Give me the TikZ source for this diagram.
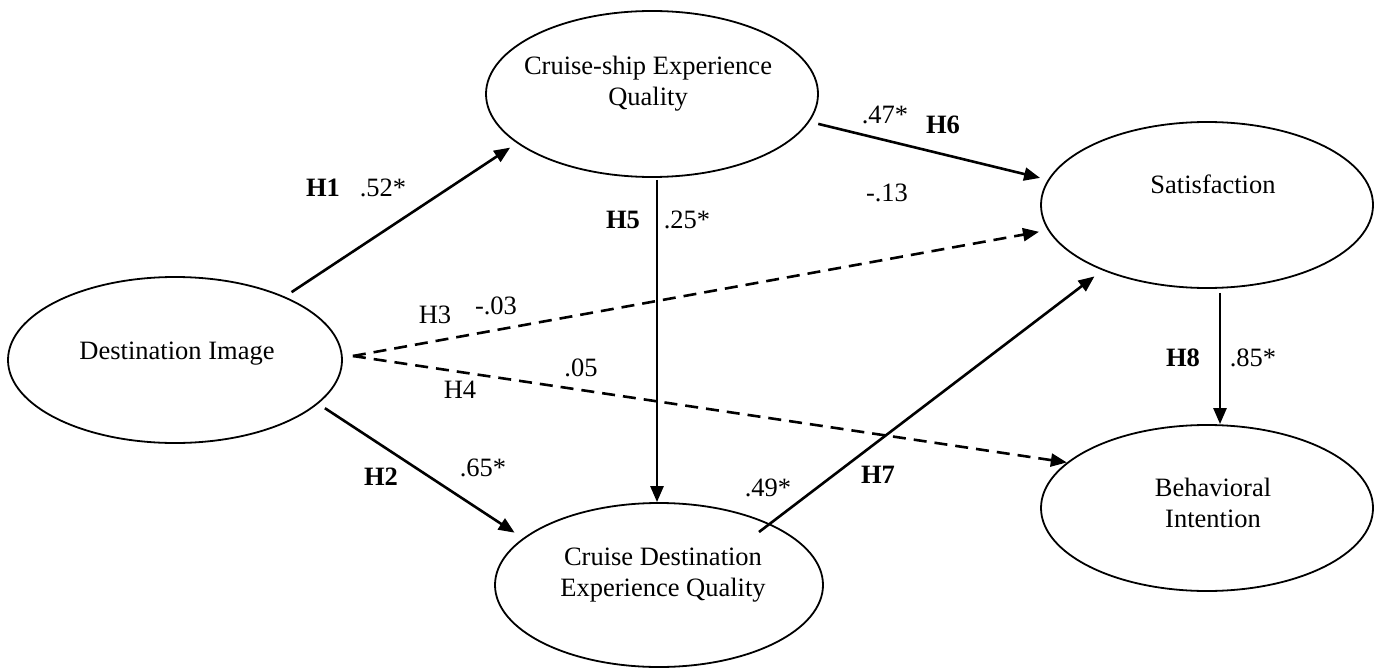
\documentclass[tikz,border=0pt]{standalone}
\usepackage{fontspec}
\setmainfont{Liberation Serif}
\usetikzlibrary{arrows.meta,shapes.geometric}
\begin{document}
\begin{tikzpicture}[x=0.5pt,y=-0.5pt,
  lat/.style={draw,ellipse,line width=0.9pt,inner sep=0pt},
  txt/.style={font=\fontsize{13.25pt}{15.5pt}\selectfont,align=center,inner sep=0pt},
  lbl/.style={font=\fontsize{13.25pt}{15.5pt}\selectfont,inner sep=0pt},
  hyp/.style={font=\fontsize{13.25pt}{15.5pt}\selectfont\bfseries,inner sep=0pt},
  arr/.style={line width=1.3pt,-{Triangle[length=8pt,width=6.5pt]}},
  darr/.style={arr,dash pattern=on 6.5pt off 4pt}]
\useasboundingbox (0,0) rectangle (1380,668);

% latent variables
\node[lat,minimum width=167pt,minimum height=83pt] (di) at (175,360) {};
\node[lat,minimum width=166pt,minimum height=83pt] (cs) at (652,94) {};
\node[lat,minimum width=166pt,minimum height=83pt] (sat) at (1207,205) {};
\node[lat,minimum width=166pt,minimum height=83pt] (bi) at (1207,508) {};
\node[lat,minimum width=164pt,minimum height=82pt] (cdeq) at (659,585) {};

% texts
\node[txt] (tdi) at (177,354) {Destination Image};
\node[txt] (tcs) at (648,84) {Cruise-ship Experience\\Quality};
\node[txt] (tsat) at (1213,184) {Satisfaction};
\node[txt] (tbi) at (1213,503) {Behavioral\\Intention};
\node[txt] (tcdeq) at (663,575) {Cruise Destination\\Experience Quality};

% connectors
\coordinate (dx) at ([xshift=5pt,yshift=2pt]di.east);
\draw[arr,shorten <=4pt,shorten >=4pt] (di.30) -- (cs.200);
\draw[arr,shorten <=4pt,shorten >=5pt] (di.-17) -- (cdeq.161);
\draw[darr,shorten >=4.5pt] (dx) -- (sat.189);
\draw[darr] (dx) -- (bi.162);
\draw[arr,shorten <=1pt] ([xshift=2.5pt]cs.south) -- ([xshift=2.5pt]cs.south |- cdeq.north);
\draw[arr,shorten <=4.5pt,shorten >=4pt] (cs.-10) -- (sat.171);
\draw[arr,shorten >=5pt] ([xshift=50pt,yshift=26.5pt]cdeq.center) -- (sat.212);
\draw[arr] ([xshift=6.5pt,yshift=-2pt]sat.south) -- ([xshift=6.5pt]sat.south |- bi.north);

% labels
\node[hyp] (h1) at (323,188) {H1};
\node[lbl] (c1) at (383,188) {.52*};
\node[hyp] (h2) at (381,477) {H2};
\node[lbl] (c2) at (483,468) {.65*};
\node[lbl] (h3) at (435,315) {H3};
\node[lbl] (c3) at (496,306) {-.03};
\node[lbl] (h4) at (460,390) {H4};
\node[lbl] (c4) at (581,368) {.05};
\node[hyp] (h5) at (623,220) {H5};
\node[lbl] (c5) at (687,220) {.25*};
\node[lbl] (c6) at (885,115) {.47*};
\node[hyp] (h6) at (943,125) {H6};
\node[lbl] (c13) at (887,193) {-.13};
\node[lbl] (c7) at (768,488) {.49*};
\node[hyp] (h7) at (878,475) {H7};
\node[hyp] (h8) at (1183,358) {H8};
\node[lbl] (c8) at (1253,358) {.85*};
\end{tikzpicture}
\end{document}
